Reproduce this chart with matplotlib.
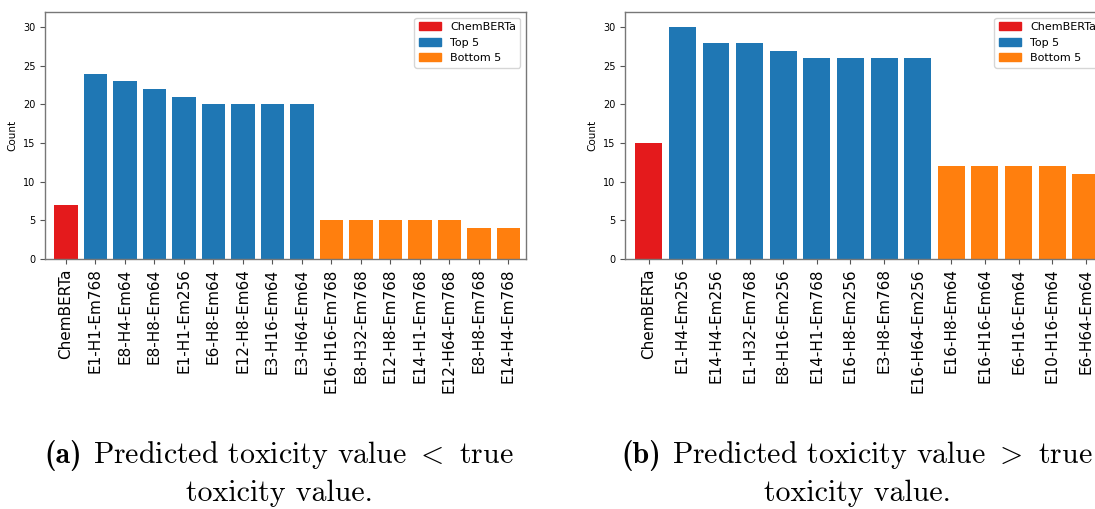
import matplotlib
matplotlib.use("Agg")
import matplotlib.pyplot as plt
from matplotlib.offsetbox import AnnotationBbox, HPacker, TextArea

# Predicted < true
under_labels = [
    "ChemBERTa", "E1-H1-Em768", "E8-H4-Em64", "E8-H8-Em64", "E1-H1-Em256",
    "E6-H8-Em64", "E12-H8-Em64", "E3-H16-Em64", "E3-H64-Em64",
    "E16-H16-Em768", "E8-H32-Em768", "E12-H8-Em768", "E14-H1-Em768",
    "E12-H64-Em768", "E8-H8-Em768", "E14-H4-Em768",
]
under_counts = [7, 24, 23, 22, 21, 20, 20, 20, 20, 5, 5, 5, 5, 5, 4, 4]
under_groups = ["ChemBERTa"] + ["Top 5"] * 8 + ["Bottom 5"] * 7

# Predicted > true
over_labels = [
    "ChemBERTa", "E1-H4-Em256", "E14-H4-Em256", "E1-H32-Em768", "E8-H16-Em256",
    "E14-H1-Em768", "E16-H8-Em256", "E3-H8-Em768", "E16-H64-Em256",
    "E16-H8-Em64", "E16-H16-Em64", "E6-H16-Em64", "E10-H16-Em64", "E6-H64-Em64",
]
over_counts = [15, 30, 28, 28, 27, 26, 26, 26, 26, 12, 12, 12, 12, 11]
over_groups = ["ChemBERTa"] + ["Top 5"] * 8 + ["Bottom 5"] * 5

GROUP_COLORS = {"ChemBERTa": "#e41a1c", "Top 5": "#1f77b4", "Bottom 5": "#ff7f0e"}

plt.rcParams["mathtext.fontset"] = "cm"
CAPTION_SIZE = 21.5


def plot_counts(ax, labels, counts, groups):
    x = list(range(len(labels)))
    colors = [GROUP_COLORS[g] for g in groups]
    ax.bar(x, counts, width=0.8, color=colors)

    # one proxy per group for the legend
    handles = [plt.Rectangle((0, 0), 1, 1, color=c) for c in GROUP_COLORS.values()]
    ax.legend(handles, list(GROUP_COLORS.keys()), loc="upper right", fontsize=8)

    ax.set_xticks(x)
    ax.set_xticklabels(labels, rotation=90, fontsize=11)
    ax.tick_params(axis="y", labelsize=7)
    ax.tick_params(colors="#555555", labelcolor="black")
    ax.set_ylabel("Count", fontsize=7.5)
    ax.set_ylim(0, 32)
    ax.set_xlim(-0.7, len(labels) - 0.4)
    for spine in ax.spines.values():
        spine.set_color("#777777")
        spine.set_linewidth(1.0)


def add_caption(fig, x, y, tag, text):
    # bold "(a)" followed by the roman caption text, centred at (x, y)
    bold = TextArea(tag, textprops=dict(family="cmb10", size=CAPTION_SIZE))
    body = TextArea(text, textprops=dict(family="cmr10", size=CAPTION_SIZE))
    box = HPacker(children=[bold, body], sep=8, pad=0, align="baseline")
    ab = AnnotationBbox(box, (x, y), xycoords="figure fraction",
                        frameon=False, box_alignment=(0.5, 0.5), pad=0)
    fig.add_artist(ab)


fig = plt.figure(figsize=(10.95, 5.09), dpi=100)
ax_under = fig.add_axes([0.0414, 0.4918, 0.439, 0.4847])
ax_over = fig.add_axes([0.571, 0.4918, 0.439, 0.4847])

plot_counts(ax_under, under_labels, under_counts, under_groups)
plot_counts(ax_over, over_labels, over_counts, over_groups)

add_caption(fig, 0.255, 0.106, "(a)", r"Predicted toxicity value $<$ true")
add_caption(fig, 0.783, 0.106, "(b)", r"Predicted toxicity value $>$ true")
fig.text(0.255, 0.031, "toxicity value.", family="cmr10", fontsize=CAPTION_SIZE,
         ha="center", va="center")
fig.text(0.783, 0.031, "toxicity value.", family="cmr10", fontsize=CAPTION_SIZE,
         ha="center", va="center")

fig.savefig("out.png", dpi=100)
